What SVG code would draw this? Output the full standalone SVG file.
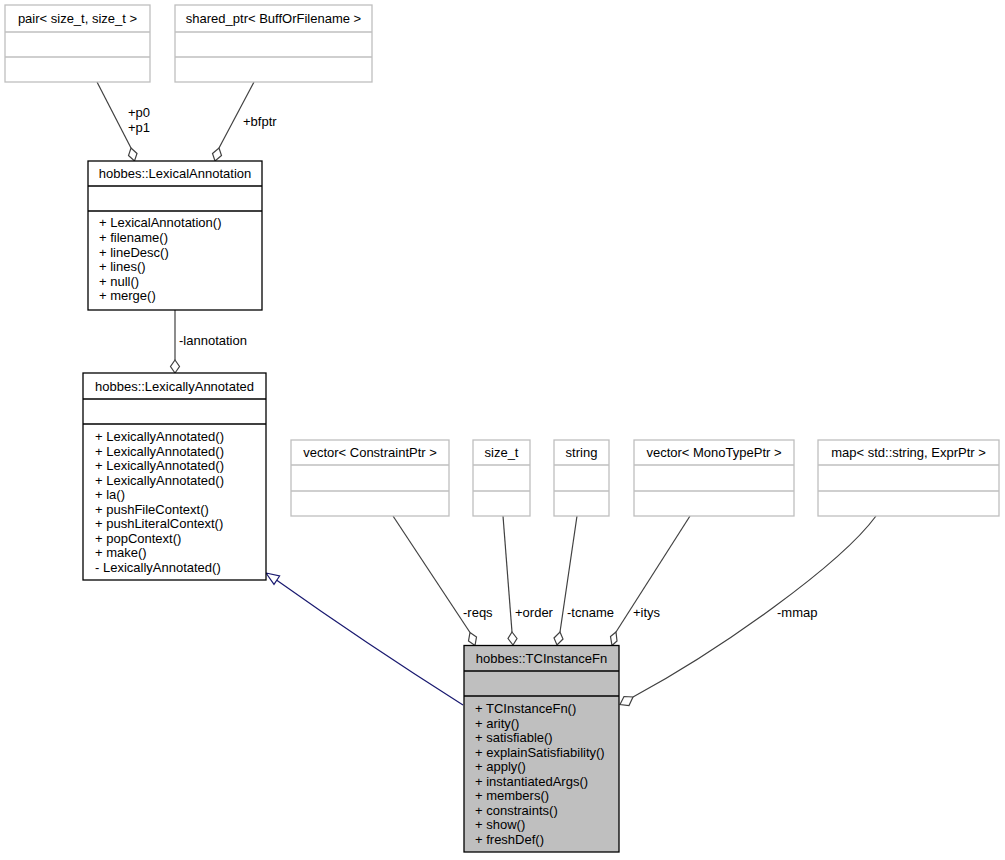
<svg xmlns="http://www.w3.org/2000/svg" width="1005" height="860" viewBox="0 0 1005 860">
<style>
text{font-family:"Liberation Sans",Arial,Helvetica,sans-serif;font-size:13px;fill:#000}
.c{text-anchor:middle}
.ext{fill:#fff;stroke:#bfbfbf;stroke-width:1.3}
.extl{stroke:#bfbfbf;stroke-width:1.3}
.cls{fill:#fff;stroke:#000;stroke-width:1.3}
.clsl{stroke:#000;stroke-width:1.3}
.cur{fill:#bfbfbf;stroke:#000;stroke-width:1.3}
.e{fill:none;stroke:#404040;stroke-width:1.2}
.d{fill:#fff;stroke:#404040;stroke-width:1.2}
.inh{fill:none;stroke:#191970;stroke-width:1.2}
.tri{fill:#fff;stroke:#191970;stroke-width:1.2}
</style>
<rect width="1005" height="860" fill="#fff"/>

<g id="connectors">
  <path class="e" d="M97,82 L131,148"/>
  <polygon class="d" points="131,148 137,153.5 134.5,161 128.5,155.5"/>
  <text x="128" y="117">+p0</text>
  <text x="128" y="132">+p1</text>

  <path class="e" d="M254,82 L219,148"/>
  <polygon class="d" points="219,148 221.5,155.5 215,161 212.5,153.5"/>
  <text x="243" y="126">+bfptr</text>

  <path class="e" d="M175,310 L175,360"/>
  <polygon class="d" points="175,360 179.5,366.5 175,373 170.5,366.5"/>
  <text x="179" y="345">-lannotation</text>

  <path class="inh" d="M463,705 C400,665 330,618 276.8,580.2"/>
  <polygon class="tri" points="266,573 279.6,576 274,584.4"/>

  <path class="e" d="M393,516 L470,632.5"/>
  <polygon class="d" points="470,632.5 476.5,637 475,645.5 468.5,641"/>
  <text x="463" y="617">-reqs</text>

  <path class="e" d="M503,516 L512,632"/>
  <polygon class="d" points="512,632 517,638.5 513,645 508,638.5"/>
  <text x="515" y="617">+order</text>

  <path class="e" d="M577,516 L560,632"/>
  <polygon class="d" points="560,632 563,639 557,645 554,638"/>
  <text x="567" y="617">-tcname</text>

  <path class="e" d="M690,516 L616,632"/>
  <polygon class="d" points="616,632 617,641 612,645.5 610.5,636.5"/>
  <text x="633" y="617">+itys</text>

  <path class="e" d="M876,516 C840,565 720,650 633,697"/>
  <polygon class="d" points="633,697 629,705.5 620,704.5 624,696.5"/>
  <text x="777" y="617">-mmap</text>
</g>

<g id="node_pair">
  <rect class="ext" x="5" y="5" width="145" height="77"/>
  <line class="extl" x1="5" y1="32" x2="150" y2="32"/>
  <line class="extl" x1="5" y1="57" x2="150" y2="57"/>
  <text class="c" x="77.5" y="23">pair&lt; size_t, size_t &gt;</text>
</g>

<g id="node_shared_ptr">
  <rect class="ext" x="175" y="5" width="197" height="77"/>
  <line class="extl" x1="175" y1="32" x2="372" y2="32"/>
  <line class="extl" x1="175" y1="57" x2="372" y2="57"/>
  <text class="c" x="273.5" y="23">shared_ptr&lt; BuffOrFilename &gt;</text>
</g>

<g id="node_LexicalAnnotation">
  <rect class="cls" x="88" y="161" width="174" height="149"/>
  <line class="clsl" x1="88" y1="186" x2="262" y2="186"/>
  <line class="clsl" x1="88" y1="211" x2="262" y2="211"/>
  <text class="c" x="175" y="178">hobbes::LexicalAnnotation</text>
  <text x="99" y="227">+ LexicalAnnotation()</text>
  <text x="99" y="242">+ filename()</text>
  <text x="99" y="256.5">+ lineDesc()</text>
  <text x="99" y="271">+ lines()</text>
  <text x="99" y="285.5">+ null()</text>
  <text x="99" y="300">+ merge()</text>
</g>

<g id="node_LexicallyAnnotated">
  <rect class="cls" x="83" y="373" width="183" height="207"/>
  <line class="clsl" x1="83" y1="399" x2="266" y2="399"/>
  <line class="clsl" x1="83" y1="424" x2="266" y2="424"/>
  <text class="c" x="174.5" y="391">hobbes::LexicallyAnnotated</text>
  <text x="95" y="441">+ LexicallyAnnotated()</text>
  <text x="95" y="455.5">+ LexicallyAnnotated()</text>
  <text x="95" y="470">+ LexicallyAnnotated()</text>
  <text x="95" y="484.5">+ LexicallyAnnotated()</text>
  <text x="95" y="499">+ la()</text>
  <text x="95" y="513.5">+ pushFileContext()</text>
  <text x="95" y="528">+ pushLiteralContext()</text>
  <text x="95" y="542.5">+ popContext()</text>
  <text x="95" y="557">+ make()</text>
  <text x="95" y="571.5">- LexicallyAnnotated()</text>
</g>

<g id="node_vector_ConstraintPtr">
  <rect class="ext" x="291" y="440" width="158" height="76"/>
  <line class="extl" x1="291" y1="465" x2="449" y2="465"/>
  <line class="extl" x1="291" y1="491" x2="449" y2="491"/>
  <text class="c" x="370" y="457">vector&lt; ConstraintPtr &gt;</text>
</g>

<g id="node_size_t">
  <rect class="ext" x="473" y="440" width="57" height="76"/>
  <line class="extl" x1="473" y1="465" x2="530" y2="465"/>
  <line class="extl" x1="473" y1="491" x2="530" y2="491"/>
  <text class="c" x="501.5" y="457">size_t</text>
</g>

<g id="node_string">
  <rect class="ext" x="554" y="440" width="55" height="76"/>
  <line class="extl" x1="554" y1="465" x2="609" y2="465"/>
  <line class="extl" x1="554" y1="491" x2="609" y2="491"/>
  <text class="c" x="581.5" y="457">string</text>
</g>

<g id="node_vector_MonoTypePtr">
  <rect class="ext" x="634" y="440" width="160" height="76"/>
  <line class="extl" x1="634" y1="465" x2="794" y2="465"/>
  <line class="extl" x1="634" y1="491" x2="794" y2="491"/>
  <text class="c" x="714" y="457">vector&lt; MonoTypePtr &gt;</text>
</g>

<g id="node_map">
  <rect class="ext" x="818" y="440" width="181" height="76"/>
  <line class="extl" x1="818" y1="465" x2="999" y2="465"/>
  <line class="extl" x1="818" y1="491" x2="999" y2="491"/>
  <text class="c" x="908.5" y="457">map&lt; std::string, ExprPtr &gt;</text>
</g>

<g id="node_TCInstanceFn">
  <rect class="cur" x="464" y="645.5" width="155" height="206.5"/>
  <line class="clsl" x1="464" y1="671" x2="619" y2="671"/>
  <line class="clsl" x1="464" y1="696" x2="619" y2="696"/>
  <text class="c" x="541.5" y="663">hobbes::TCInstanceFn</text>
  <text x="475" y="713">+ TCInstanceFn()</text>
  <text x="475" y="727.5">+ arity()</text>
  <text x="475" y="742">+ satisfiable()</text>
  <text x="475" y="756.5">+ explainSatisfiability()</text>
  <text x="475" y="771">+ apply()</text>
  <text x="475" y="785.5">+ instantiatedArgs()</text>
  <text x="475" y="800">+ members()</text>
  <text x="475" y="814.5">+ constraints()</text>
  <text x="475" y="829">+ show()</text>
  <text x="475" y="843.5">+ freshDef()</text>
</g>
</svg>
